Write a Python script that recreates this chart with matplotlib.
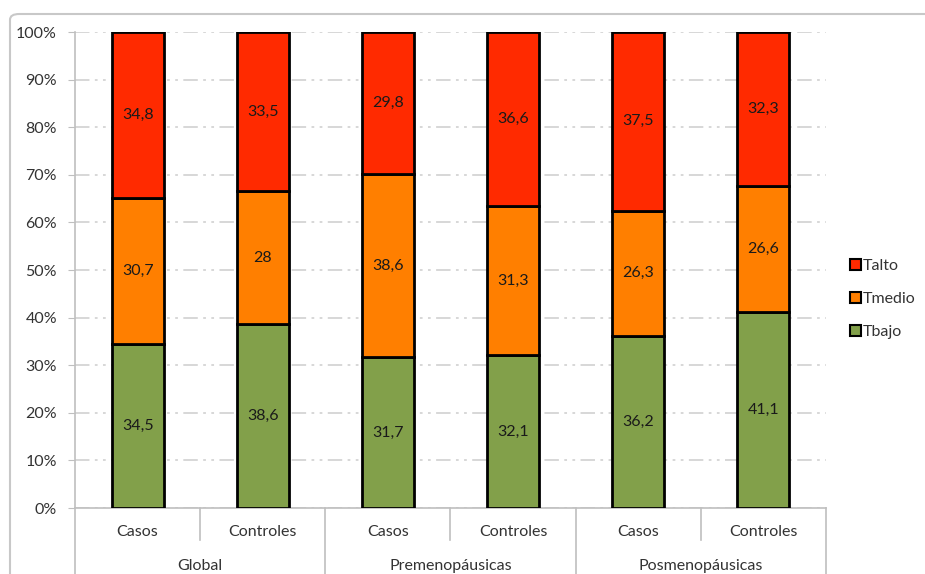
import matplotlib
matplotlib.use("Agg")
import matplotlib.pyplot as plt
from matplotlib.patches import Patch, FancyBboxPatch
from matplotlib.transforms import blended_transform_factory
import numpy as np

plt.rcParams['font.family'] = ['Lato', 'DejaVu Sans']

groups = ["Global", "Premenopáusicas", "Posmenopáusicas"]
subgroups = ["Casos", "Controles"]
tbajo = [34.5, 38.6, 31.7, 32.1, 36.2, 41.1]
tmedio = [30.7, 28, 38.6, 31.3, 26.3, 26.6]
talto = [34.8, 33.5, 29.8, 36.6, 37.5, 32.3]
series_names = ["Tbajo", "Tmedio", "Talto"]
colors = ["#82a04a", "#ff7f00", "#ff2a00"]
FS = 11.5

fig = plt.figure(figsize=(9.25, 5.74), dpi=100)
fig.patches.append(FancyBboxPatch((10 / 925, -0.2), 1.2, 1 - 14 / 574 + 0.2,
                                  boxstyle="round,pad=0,rounding_size=0.01",
                                  transform=fig.transFigure, fill=False,
                                  edgecolor="#c8c8c8", linewidth=1.5))
ax = fig.add_axes([75 / 925, 1 - 508 / 574, 751 / 925, 476 / 574])

x = np.arange(len(tbajo))
data = [tbajo, tmedio, talto]
totals = np.sum(data, axis=0)
bottom = np.zeros(len(x))
for vals, col in zip(data, colors):
    vals = np.array(vals, dtype=float)
    pct = vals / totals * 100
    ax.bar(x, pct, width=0.415, bottom=bottom, color=col,
           edgecolor="black", linewidth=2.0, zorder=3)
    for xi, b, p, v in zip(x, bottom, pct, vals):
        lbl = f"{v:g}".replace(".", ",")
        ax.text(xi, b + p / 2, lbl, ha="center", va="center",
                fontsize=FS, color="#1a1a1a", zorder=4)
    bottom += pct

ax.set_xlim(-0.5, len(x) - 0.5)
ax.set_ylim(0, 100)
ax.set_yticks(np.arange(0, 101, 10))
ax.set_yticklabels([f"{v}%" for v in range(0, 101, 10)], fontsize=FS,
                   color="#333333")
ax.yaxis.grid(True, color="#d4d4d4", linewidth=1.3, linestyle=(0, (8, 3, 1.5, 3, 1.5, 3)))
ax.set_axisbelow(True)
ax.tick_params(axis="y", length=5, color="#bfbfbf", pad=8)
ax.tick_params(axis="x", length=0, labelbottom=False)
for s in ["top", "right"]:
    ax.spines[s].set_visible(False)
ax.spines["left"].set_color("#bfbfbf")
ax.spines["bottom"].set_color("#bfbfbf")
ax.spines["left"].set_linewidth(1.2)
ax.spines["bottom"].set_linewidth(1.2)

# two-level category axis
trans = blended_transform_factory(ax.transData, ax.transAxes)
for i, xi in enumerate(x):
    ax.text(xi, -0.05, subgroups[i % 2], transform=trans, ha="center",
            va="center", fontsize=FS, color="#333333")
for xi in x[::2]:
    ax.plot([xi + 0.5, xi + 0.5], [0, -0.067], transform=trans,
            color="#bfbfbf", linewidth=1.2, clip_on=False)
for g in range(len(groups) + 1):
    xg = g * 2 - 0.5
    ax.plot([xg, xg], [0, -0.2], transform=trans, color="#bfbfbf",
            linewidth=1.2, clip_on=False)
for g, name in enumerate(groups):
    ax.text(g * 2 + 0.5, -0.122, name, transform=trans, ha="center",
            va="center", fontsize=FS, color="#333333")

handles = [Patch(facecolor=c, edgecolor="black", linewidth=1.5, label=n)
           for n, c in zip(series_names, colors)][::-1]
fig.legend(handles=handles, loc="center left",
           bbox_to_anchor=(836 / 925, 1 - 299 / 574), frameon=False,
           fontsize=FS, handlelength=0.65, handleheight=0.65,
           handletextpad=0.15, labelspacing=1.2, labelcolor="#333333")

fig.savefig("out.png", dpi=100)
